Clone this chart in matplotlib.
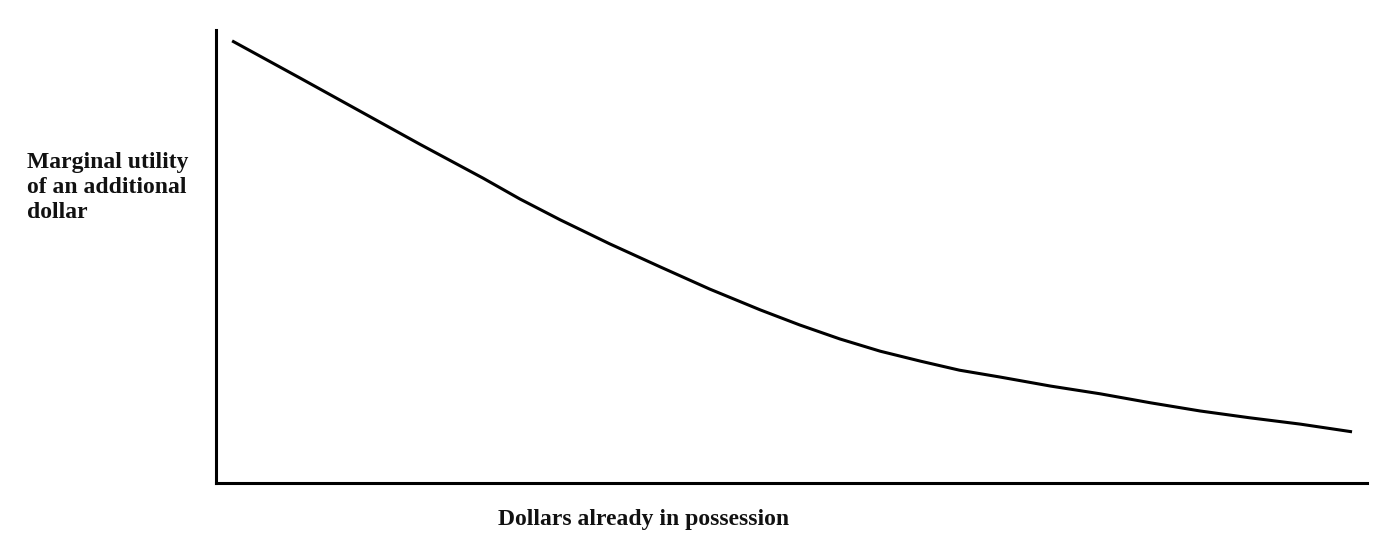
import matplotlib
matplotlib.use("Agg")
import matplotlib.pyplot as plt

# Curve (arbitrary units, axes span 0-100)
dollars = [1.4, 7.3, 12.5, 17.7, 23.2, 26.4, 29.9, 34.2, 38.6, 42.9, 47.3, 50.7,
           54.2, 57.7, 61.2, 64.6, 68.1, 72.5, 76.8, 81.2, 85.5, 89.8, 94.2, 98.7]
utility = [97.6, 89.4, 82.1, 74.8, 67.3, 62.7, 58.1, 52.8, 47.7, 42.8, 38.2, 34.9,
           31.8, 29.1, 26.9, 24.9, 23.4, 21.4, 19.7, 17.7, 15.9, 14.4, 13.0, 11.3]

xlabel = "Dollars already in possession"
ylabel = "Marginal utility\nof an additional\ndollar"

W, H = 1381, 538
fig = plt.figure(figsize=(W / 100, H / 100), dpi=100)
ax = fig.add_axes([216 / W, (H - 483) / H, (1367 - 216) / W, (483 - 30) / H])

ax.plot(dollars, utility, color="black", lw=2.2, solid_capstyle="butt",
        solid_joinstyle="round")
ax.set_xlim(0, 100)
ax.set_ylim(0, 100)

for side in ("top", "right"):
    ax.spines[side].set_visible(False)
for side in ("left", "bottom"):
    ax.spines[side].set_linewidth(2.2)
ax.set_xticks([])
ax.set_yticks([])

font = dict(family="Liberation Serif", weight="bold", fontsize=17, color="#111111")
fig.text(27 / W, 1 - 152 / H, ylabel, ha="left", va="top", linespacing=1.25, **font)
fig.text(644 / W, 1 - 519 / H, xlabel, ha="center", va="center", **font)

fig.savefig("out.png", dpi=100, facecolor="white")
